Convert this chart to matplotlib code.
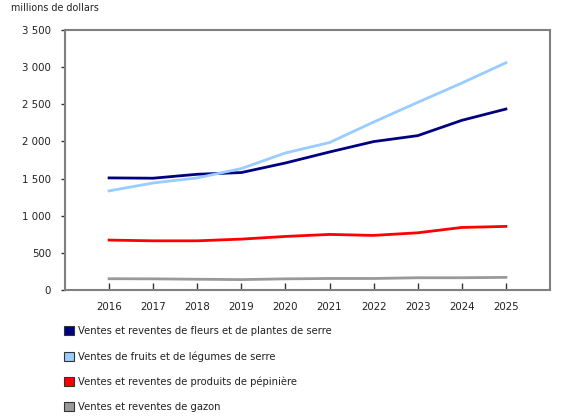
import matplotlib
matplotlib.use("Agg")
import matplotlib.pyplot as plt
from matplotlib.patches import Patch
from matplotlib.ticker import FuncFormatter

years = [2016, 2017, 2018, 2019, 2020, 2021, 2022, 2023, 2024, 2025]
fleurs = [1509, 1505, 1558, 1581, 1710, 1858, 1998, 2078, 2284, 2436]
fruits = [1334, 1441, 1509, 1635, 1845, 1985, 2261, 2526, 2786, 3059]
pepiniere = [672, 662, 662, 685, 721, 748, 735, 770, 842, 856]
gazon = [152, 150, 145, 140, 150, 155, 155, 165, 165, 170]

labels = [
    "Ventes et reventes de fleurs et de plantes de serre",
    "Ventes de fruits et de légumes de serre",
    "Ventes et reventes de produits de pépinière",
    "Ventes et reventes de gazon",
]
colors = ["#000080", "#99ccff", "#ff0000", "#999999"]
series = [fleurs, fruits, pepiniere, gazon]
yticks = [0, 500, 1000, 1500, 2000, 2500, 3000, 3500]

plt.rcParams['font.family'] = ['DejaVu Sans']
fig = plt.figure(figsize=(5.8, 4.2), dpi=100)
ax = fig.add_axes([65/580, 1 - 290/420, (550-65)/580, (290-30)/420])

for s, c in zip(series, colors):
    ax.plot(years, s, color=c, linewidth=2, solid_joinstyle='round')

ax.set_xlim(2015, 2026)
ax.set_ylim(0, 3500)
ax.set_xticks(years)
ax.set_xticklabels([str(y) for y in years])
ax.set_yticks(yticks)
ax.yaxis.set_major_formatter(FuncFormatter(lambda v, p: f"{int(v):,}".replace(",", " ")))
for sp in ax.spines.values():
    sp.set_color("#808080")
    sp.set_linewidth(1.5)
ax.tick_params(axis='x', direction='in', length=5, width=1, color="#333333",
               labelsize=7.4, labelcolor="#222222", pad=9)
ax.tick_params(axis='y', direction='out', length=3, width=1, color="#333333",
               labelsize=7.4, labelcolor="#222222", pad=7)

fig.text(11/580, 1 - 8/420, "millions de dollars", fontsize=6.9, color="#222222",
         va='center', ha='left')

handles = [Patch(facecolor=c, edgecolor="#333333", linewidth=0.8) for c in colors]
leg = fig.legend(handles, labels, loc='upper left', bbox_to_anchor=(60/580, 1 - 322/420),
                 frameon=False, fontsize=7.2, handlelength=1.0, handleheight=1.0,
                 labelspacing=1.5, handletextpad=0.4, borderaxespad=0)
for t in leg.get_texts():
    t.set_color("#222222")

fig.savefig("out.png", dpi=100)
